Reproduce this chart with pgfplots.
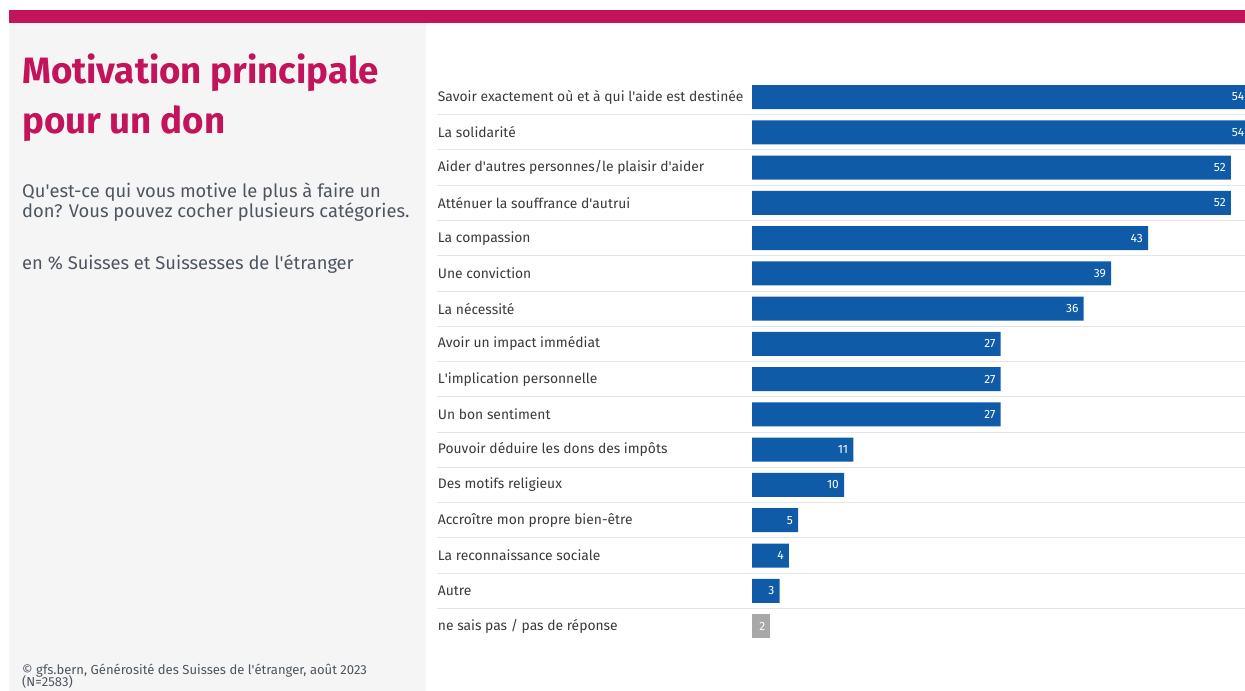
\documentclass[border=0pt]{standalone}
\usepackage{fontspec}
\setmainfont{Fira Sans}
\usepackage{pgfplots}
\pgfplotsset{compat=1.18}
\definecolor{mag}{HTML}{C2135B}
\definecolor{barblue}{HTML}{0F5BA8}
\definecolor{bargrey}{HTML}{A8A8A8}
\definecolor{panel}{HTML}{F5F5F5}
\definecolor{labtext}{HTML}{3A3A3A}
\definecolor{subtext}{HTML}{4D5660}
\definecolor{sep}{HTML}{E4E4E4}
\newcommand\q{\textquotesingle}
\begin{document}
\begin{tikzpicture}[x=1bp,y=1bp]
\useasboundingbox (0,0) rectangle (1245,-691);
\clip (0,0) rectangle (1245,-691);
\fill[white] (0,0) rectangle (1245,-691);
\fill[mag] (9,-10) rectangle (1245,-23);
\fill[panel] (9,-23) rectangle (426,-691);
% titles
\node[anchor=base west, inner sep=0, text=mag, font=\fontsize{36.8}{40}\selectfont\bfseries] at (22,-84) {Motivation principale};
\node[anchor=base west, inner sep=0, text=mag, font=\fontsize{36.8}{40}\selectfont\bfseries] at (22,-134) {pour un don};
\node[anchor=base west, inner sep=0, text=subtext, font=\fontsize{18.4}{20}\selectfont] at (22,-198) {Qu\q est-ce qui vous motive le plus à faire un};
\node[anchor=base west, inner sep=0, text=subtext, font=\fontsize{18.4}{20}\selectfont] at (22,-218) {don? Vous pouvez cocher plusieurs catégories.};
\node[anchor=base west, inner sep=0, text=subtext, font=\fontsize{18.4}{20}\selectfont] at (22,-269) {en \% Suisses et Suissesses de l\q étranger};
\node[anchor=base west, inner sep=0, text=subtext, font=\fontsize{13.1}{14}\selectfont] at (22,-674) {© gfs.bern, Générosité des Suisses de l\q étranger, août 2023};
\node[anchor=base west, inner sep=0, text=subtext, font=\fontsize{13.1}{14}\selectfont] at (22,-686.5) {(N=2583)};
% separators
\foreach \i in {0,...,14} {
  \draw[sep, line width=0.8bp] (437,{-97-35.27*\i-17.63}) -- (1245,{-97-35.27*\i-17.63});
}
\begin{axis}[
  at={(752bp,-79.36bp)}, anchor=north west,
  scale only axis, width=497.34bp, height=564.3bp,
  xmin=0, xmax=54, ymin=-0.5, ymax=15.5, y dir=reverse,
  axis line style={draw=none}, tick style={draw=none},
  xtick=\empty,
  ytick={0,...,15},
  yticklabels={Savoir exactement où et à qui l\q aide est destinée, La solidarité, Aider d\q autres personnes/le plaisir d\q aider, Atténuer la souffrance d\q autrui, La compassion, Une conviction, La nécessité, Avoir un impact immédiat, L\q implication personnelle, Un bon sentiment, Pouvoir déduire les dons des impôts, Des motifs religieux, Accroître mon propre bien-être, La reconnaissance sociale, Autre, ne sais pas / pas de réponse},
  yticklabel style={anchor=west, inner sep=0pt, xshift=-310bp, text=labtext, font=\fontsize{13.9}{15}\selectfont},
  xbar, bar width=24bp, bar shift=0pt,
  clip=false,
  nodes near coords,
  /pgf/number format/assume math mode=true,
  nodes near coords style={anchor=east, inner sep=0pt, xshift=-5bp, text=white, font=\fontsize{12}{13}\selectfont},
]
\addplot[fill=barblue, draw=none] coordinates {(54,0) (54,1) (52,2) (52,3) (43,4) (39,5) (36,6) (27,7) (27,8) (27,9) (11,10) (10,11) (5,12) (4,13) (3,14)};
\addplot[fill=bargrey, draw=none] coordinates {(2,15)};
\end{axis}
\end{tikzpicture}
\end{document}
